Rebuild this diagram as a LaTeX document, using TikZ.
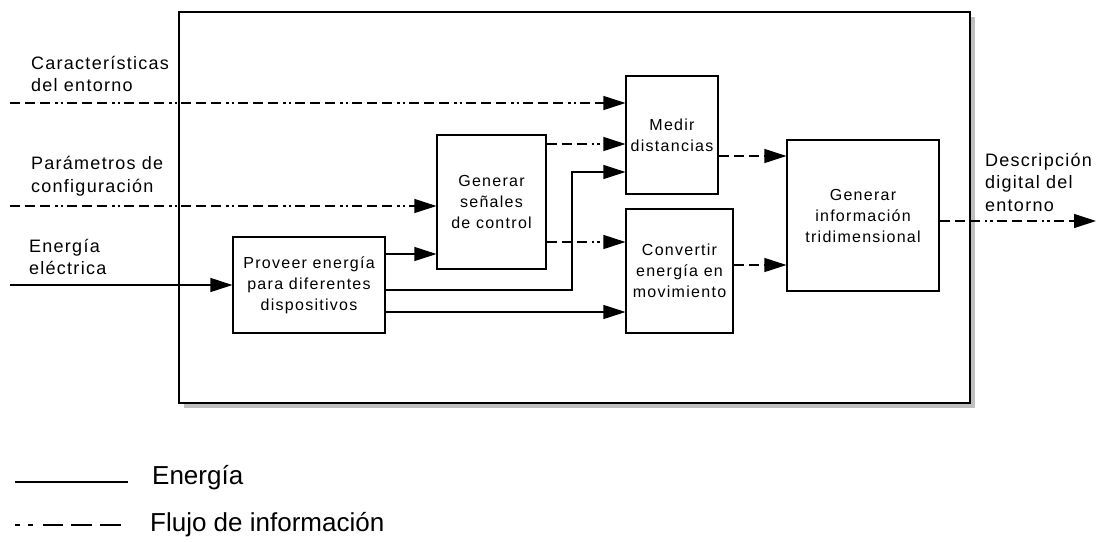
\documentclass[tikz,border=0pt]{standalone}
\usepackage{fontspec}
\setmainfont{Liberation Sans}
\newfontfamily\lblfont[LetterSpace=7]{Liberation Sans}
\newfontfamily\bxfont[LetterSpace=8]{Liberation Sans}
\usetikzlibrary{arrows.meta,shadows}
\tikzset{
  blockbox/.style={draw, line width=1.1pt, fill=white, inner sep=0pt, align=center,
    font=\bxfont\fontsize{16}{21}\selectfont},
  lbl/.style={anchor=west, inner sep=0pt, align=left, font=\lblfont\fontsize{18}{22.5}\selectfont},
  leg/.style={anchor=west, inner sep=0pt, font=\fontsize{26}{30}\selectfont},
  energy/.style={line width=1.1pt},
  info/.style={line width=1.1pt, dash pattern=on 10pt off 5pt on 10pt off 5pt on 10pt off 5pt on 2.5pt off 3pt on 2.5pt off 4pt},
  arr/.style={-{Triangle[length=22pt,width=14pt]}}
}
\begin{document}
\begin{tikzpicture}[x=1pt,y=-1pt]
\useasboundingbox (0,0) rectangle (1097,541);
% frame
\node[draw, line width=1.1pt, fill=white, inner sep=0pt, minimum width=791pt, minimum height=391pt,
  drop shadow={shadow xshift=5pt, shadow yshift=-5pt, fill=black!25, opacity=1}]
  (frame) at (574.5,207.5) {};
% blocks
\node[blockbox, minimum width=152pt, minimum height=96pt] (prov) at (309,285) {Proveer energía\\para diferentes\\dispositivos};
\node[blockbox, minimum width=109pt, minimum height=134pt] (gsen) at (491.5,202) {Generar\\señales\\de control};
\node[blockbox, minimum width=92pt, minimum height=118pt] (med) at (672,135) {Medir\\distancias};
\node[blockbox, minimum width=107pt, minimum height=124pt] (conv) at (679.5,271) {Convertir\\energía en\\movimiento};
\node[blockbox, minimum width=152pt, minimum height=151pt] (ginfo) at (863,215.5) {Generar\\información\\tridimensional};
% labels
\node[lbl] (l1) at (31,74) {Características\\del entorno};
\node[lbl] (l2) at (31,176) {Parámetros de\\configuración};
\node[lbl] (l3) at (29,257) {Energía\\eléctrica};
\node[lbl] (l4) at (985,182) {Descripción\\digital del\\entorno};
% free ends
\coordinate (in1) at (10,103);
\coordinate (in2) at (10,206);
\coordinate (in3) at (10,285);
\coordinate (out) at (1096,221);
\coordinate (bend) at (572,172);
\coordinate (p1) at ([yshift=31pt]prov.east);
\coordinate (p2) at ([yshift=-5pt]prov.east);
\coordinate (p3) at ([yshift=-27pt]prov.east);
\coordinate (g1) at ([yshift=58pt]gsen.east);
\coordinate (g2) at ([yshift=-40pt]gsen.east);
\coordinate (m1) at ([yshift=-21pt]med.east);
\coordinate (c1) at ([yshift=6pt]conv.east);
\coordinate (i1) at ([yshift=-5.5pt]ginfo.east);
% connectors
\draw[info,arr] (in1) -- (in1 -| med.west);
\draw[info,arr] (in2) -- (in2 -| gsen.west);
\draw[energy,arr] (in3) -- (prov.west);
\draw[energy,arr] (p1) -- (p1 -| gsen.west);
\draw[energy,arr] (p2) -| (bend) -- (bend -| med.west);
\draw[energy,arr] (p3) -- (p3 -| conv.west);
\draw[info,arr] (g1) -- (g1 -| med.west);
\draw[info,arr] (g2) -- (g2 -| conv.west);
\draw[info,arr] (m1) -- (m1 -| ginfo.west);
\draw[info,arr] (c1) -- (c1 -| ginfo.west);
\draw[info,arr] (i1) -- (i1 -| out);
% legend
\coordinate (e0) at (15,482);
\coordinate (e1) at (128,482);
\coordinate (f0) at (15,525);
\coordinate (f1) at (121,525);
\draw[energy] (e0) -- (e1);
\draw[line width=1.3pt, dash pattern=on 5pt off 8pt on 5pt off 10pt on 20pt off 8pt on 21pt off 8pt on 21pt off 20pt] (f0) -- (f1);
\node[leg] (le) at (152,478) {Energía};
\node[leg] (lf) at (150,525) {Flujo de información};
\end{tikzpicture}
\end{document}
